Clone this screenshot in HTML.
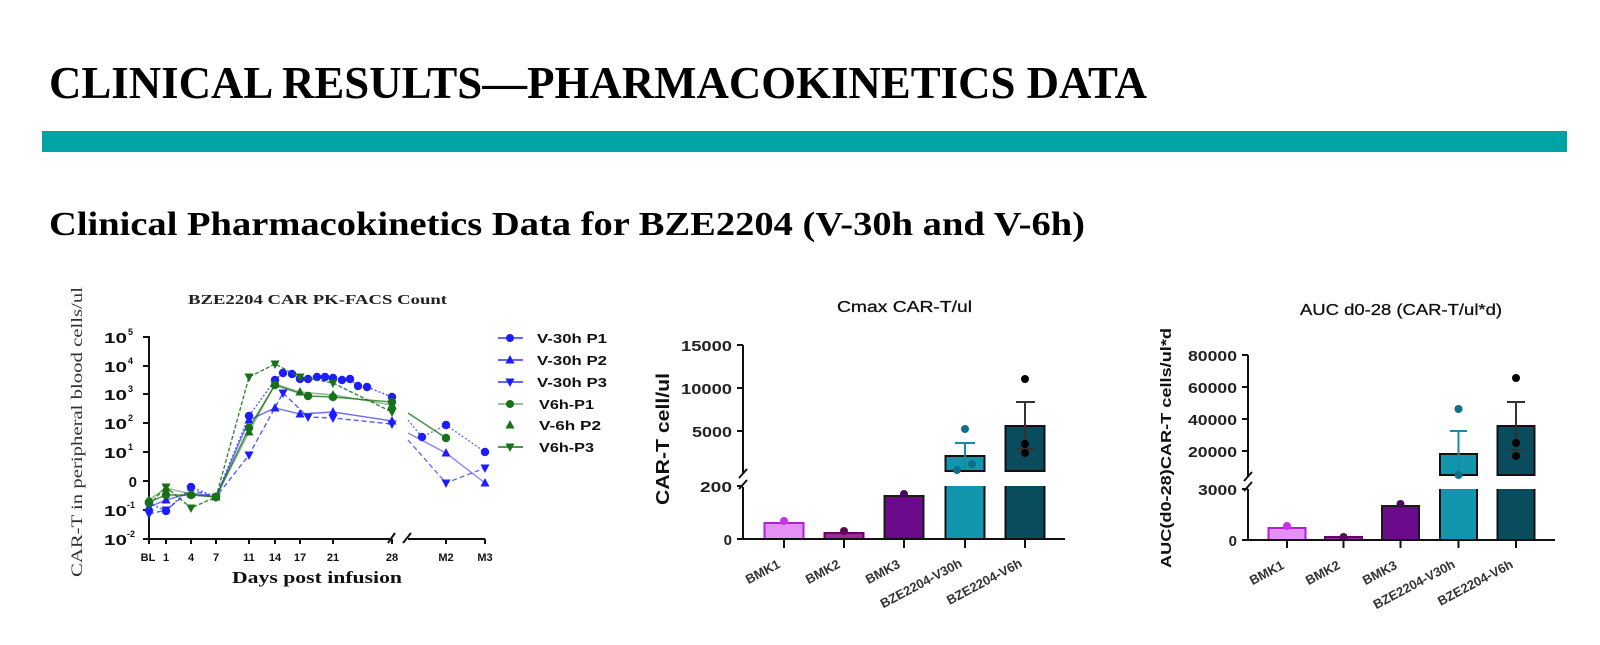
<!DOCTYPE html>
<html><head><meta charset="utf-8"><style>html,body{margin:0;padding:0;background:#fff}svg{display:block}</style></head>
<body>
<svg width="1600" height="645" viewBox="0 0 1600 645" xmlns="http://www.w3.org/2000/svg">
<defs>
<marker id="cB" viewBox="-6 -6 12 12" markerWidth="12" markerHeight="12" markerUnits="userSpaceOnUse" refX="0" refY="0"><circle r="4.2" fill="#1c1cff"/></marker>
<marker id="uB" viewBox="-6 -6 12 12" markerWidth="12" markerHeight="12" markerUnits="userSpaceOnUse" refX="0" refY="0"><path d="M0,-5L4.5,3.5L-4.5,3.5Z" fill="#1c1cff"/></marker>
<marker id="dB" viewBox="-6 -6 12 12" markerWidth="12" markerHeight="12" markerUnits="userSpaceOnUse" refX="0" refY="0"><path d="M0,5L4.5,-3.5L-4.5,-3.5Z" fill="#1c1cff"/></marker>
<marker id="cG" viewBox="-6 -6 12 12" markerWidth="12" markerHeight="12" markerUnits="userSpaceOnUse" refX="0" refY="0"><circle r="4.2" fill="#187018"/></marker>
<marker id="uG" viewBox="-6 -6 12 12" markerWidth="12" markerHeight="12" markerUnits="userSpaceOnUse" refX="0" refY="0"><path d="M0,-5L4.5,3.5L-4.5,3.5Z" fill="#187018"/></marker>
<marker id="dG" viewBox="-6 -6 12 12" markerWidth="12" markerHeight="12" markerUnits="userSpaceOnUse" refX="0" refY="0"><path d="M0,5L4.5,-3.5L-4.5,-3.5Z" fill="#187018"/></marker>
</defs>

<!-- Header -->
<text x="49" y="98" font-family="Liberation Serif, serif" font-weight="bold" font-size="46" textLength="1098" lengthAdjust="spacingAndGlyphs" fill="#000">CLINICAL RESULTS—PHARMACOKINETICS DATA</text>
<rect x="42" y="131" width="1525" height="21" fill="#00a4a5"/>
<text x="49" y="235" font-family="Liberation Serif, serif" font-weight="bold" font-size="34" textLength="1036" lengthAdjust="spacingAndGlyphs" fill="#000">Clinical Pharmacokinetics Data for BZE2204 (V-30h and V-6h)</text>

<!-- ===== LEFT CHART ===== -->
<text x="317.5" y="304" text-anchor="middle" font-family="Liberation Serif, serif" font-weight="bold" font-size="14" textLength="259" lengthAdjust="spacingAndGlyphs" fill="#222">BZE2204 CAR PK-FACS Count</text>
<text transform="translate(82,432) rotate(-90)" text-anchor="middle" font-family="Liberation Serif, serif" font-size="16" textLength="290" lengthAdjust="spacingAndGlyphs" fill="#333">CAR-T in peripheral blood cells/ul</text>

<g stroke="#111" stroke-width="2" fill="none">
<path d="M149,336V539H390"/>
<path d="M143,337H149M143,366H149M143,394H149M143,423H149M143,452H149M143,481H149M143,510H149M143,539H149"/>
<path d="M166,539V544M191,539V544M216,539V544M249,539V544M275,539V544M300,539V544M333,539V544M392,539V544M446,539V544M485,539V544M149,539V544"/>
<path d="M388,543L395,533M403,543L411,533M408,539H485"/>
</g>
<g font-family="Liberation Sans, sans-serif" font-weight="bold" fill="#111">
<g font-size="15" text-anchor="end">
<text x="127" y="343" textLength="23" lengthAdjust="spacingAndGlyphs">10</text>
<text x="127" y="372" textLength="23" lengthAdjust="spacingAndGlyphs">10</text>
<text x="127" y="400" textLength="23" lengthAdjust="spacingAndGlyphs">10</text>
<text x="127" y="429" textLength="23" lengthAdjust="spacingAndGlyphs">10</text>
<text x="127" y="458" textLength="23" lengthAdjust="spacingAndGlyphs">10</text>
<text x="137" y="487">0</text>
<text x="127" y="516" textLength="23" lengthAdjust="spacingAndGlyphs">10</text>
<text x="127" y="545" textLength="23" lengthAdjust="spacingAndGlyphs">10</text>
</g>
<g font-size="9">
<text x="128" y="335">5</text>
<text x="128" y="364">4</text>
<text x="128" y="392">3</text>
<text x="128" y="421">2</text>
<text x="128" y="450">1</text>
<text x="127" y="508">-1</text>
<text x="127" y="537">-2</text>
</g>
<g font-size="11" text-anchor="middle">
<text x="148" y="561">BL</text><text x="166" y="561">1</text><text x="191" y="561">4</text><text x="216" y="561">7</text>
<text x="249" y="561">11</text><text x="275" y="561">14</text><text x="300" y="561">17</text><text x="333" y="561">21</text>
<text x="392" y="561">28</text><text x="446" y="561">M2</text><text x="485" y="561">M3</text>
</g>
</g>
<text x="317" y="583" text-anchor="middle" font-family="Liberation Serif, serif" font-weight="bold" font-size="17" textLength="170" lengthAdjust="spacingAndGlyphs" fill="#111">Days post infusion</text>

<!-- series -->
<g fill="none" stroke-width="1.4">
<polyline stroke="#3030ff" stroke-opacity="0.8" stroke-dasharray="2,2" marker-start="url(#cB)" marker-mid="url(#cB)" marker-end="url(#cB)"
 points="149,503 166,511 191,487 216,497 249,416 275,380 283,373 292,374 300,379 308,379 317,377 325,377 333,378 342,380 350,379 358,386 367,387 392,397"/>
<polyline stroke="#3030ff" stroke-opacity="0.7" marker-start="url(#uB)" marker-mid="url(#uB)" marker-end="url(#uB)"
 points="149,507 166,500 191,493 216,497 249,420 275,408 300,414 333,412 392,421"/>
<polyline stroke="#3030ff" stroke-opacity="0.8" stroke-dasharray="5,3" marker-start="url(#dB)" marker-mid="url(#dB)" marker-end="url(#dB)"
 points="149,514 166,510 191,490 216,497 249,455 283,393 308,417 333,418 392,424"/>
<polyline stroke="#187018" stroke-opacity="0.8" marker-start="url(#cG)" marker-mid="url(#cG)" marker-end="url(#cG)"
 points="149,502 166,495 191,495 216,497 249,428 275,385 308,396 333,397 392,402"/>
<polyline stroke="#187018" stroke-opacity="0.5" marker-start="url(#uG)" marker-mid="url(#uG)" marker-end="url(#uG)"
 points="149,500 166,488 191,494 216,497 249,432 275,384 300,392 333,395 392,405"/>
<polyline stroke="#187018" stroke-opacity="0.85" stroke-dasharray="4,2" marker-start="url(#dG)" marker-mid="url(#dG)" marker-end="url(#dG)"
 points="149,505 166,487 191,508 216,497 249,377 275,364 300,377 333,383 392,412"/>
<!-- after break -->
<polyline stroke="#3030ff" stroke-opacity="0.7" stroke-dasharray="2,2" marker-mid="url(#cB)" marker-end="url(#cB)" points="408,420 422,437 446,425 485,452"/>
<polyline stroke="#3030ff" stroke-opacity="0.6" marker-mid="url(#uB)" marker-end="url(#uB)" points="408,433 446,453 485,483"/>
<polyline stroke="#3030ff" stroke-opacity="0.7" stroke-dasharray="5,3" marker-mid="url(#dB)" marker-end="url(#dB)" points="408,440 446,483 485,468"/>
<polyline stroke="#187018" stroke-opacity="0.8" marker-end="url(#cG)" points="408,413 446,438"/>
</g>

<!-- legend -->
<g stroke-width="1.4">
<line x1="498" y1="338" x2="523" y2="338" stroke="#3030ff"/>
<circle cx="510" cy="338" r="4" fill="#1c1cff"/>
<line x1="498" y1="360" x2="523" y2="360" stroke="#3030ff"/>
<path d="M510,355L514.5,363.5L505.5,363.5Z" fill="#1c1cff"/>
<line x1="498" y1="382" x2="523" y2="382" stroke="#3030ff"/>
<path d="M510,387L514.5,378.5L505.5,378.5Z" fill="#1c1cff"/>
<line x1="498" y1="404" x2="523" y2="404" stroke="#187018" stroke-opacity="0.6"/>
<circle cx="510" cy="404" r="4" fill="#187018"/>
<path d="M510,420L514.5,428.5L505.5,428.5Z" fill="#187018"/>
<line x1="498" y1="447" x2="523" y2="447" stroke="#187018"/>
<path d="M510,452L514.5,443.5L505.5,443.5Z" fill="#187018"/>
</g>
<g font-family="Liberation Sans, sans-serif" font-weight="bold" font-size="13" fill="#111">
<text x="537" y="343" textLength="70" lengthAdjust="spacingAndGlyphs">V-30h P1</text>
<text x="537" y="365" textLength="70" lengthAdjust="spacingAndGlyphs">V-30h P2</text>
<text x="537" y="387" textLength="70" lengthAdjust="spacingAndGlyphs">V-30h P3</text>
<text x="539" y="409" textLength="55" lengthAdjust="spacingAndGlyphs">V6h-P1</text>
<text x="539" y="430" textLength="62" lengthAdjust="spacingAndGlyphs">V-6h P2</text>
<text x="539" y="452" textLength="55" lengthAdjust="spacingAndGlyphs">V6h-P3</text>
</g>

<!-- ===== MIDDLE CHART ===== -->
<text x="904.5" y="312" text-anchor="middle" font-family="Liberation Sans, sans-serif" font-size="16" textLength="135" lengthAdjust="spacingAndGlyphs" fill="#111" stroke="#111" stroke-width="0.3">Cmax CAR-T/ul</text>
<text transform="translate(669,439) rotate(-90)" text-anchor="middle" font-family="Liberation Sans, sans-serif" font-weight="bold" font-size="18" textLength="132" lengthAdjust="spacingAndGlyphs" fill="#111">CAR-T cell/ul</text>
<g font-family="Liberation Sans, sans-serif" font-weight="bold" font-size="15" fill="#222" text-anchor="end">
<text x="732" y="351" textLength="51" lengthAdjust="spacingAndGlyphs">15000</text>
<text x="732" y="394" textLength="51" lengthAdjust="spacingAndGlyphs">10000</text>
<text x="732" y="437" textLength="40" lengthAdjust="spacingAndGlyphs">5000</text>
<text x="732" y="492" textLength="32" lengthAdjust="spacingAndGlyphs">200</text>
<text x="732" y="545">0</text>
</g>
<!-- bars -->
<rect x="764.5" y="523" width="39" height="16" fill="#e590f5" stroke="#b020d8" stroke-width="2"/>
<rect x="824.5" y="533" width="39" height="6" fill="#9b2a9b" stroke="#6a006a" stroke-width="2"/>
<rect x="884.5" y="496" width="39" height="43" fill="#6c0a8c" stroke="#1a1a1a" stroke-width="2"/>
<rect x="945.5" y="486" width="39" height="53" fill="#1296ae"/>
<path d="M945.5,486V539M984.5,486V539" stroke="#111" stroke-width="2"/>
<rect x="945.5" y="456" width="39" height="15" fill="#1296ae" stroke="#111" stroke-width="2"/>
<rect x="1005.5" y="486" width="39" height="53" fill="#084c5e"/>
<path d="M1005.5,486V539M1044.5,486V539" stroke="#111" stroke-width="2"/>
<rect x="1005.5" y="426" width="39" height="45" fill="#084c5e" stroke="#111" stroke-width="2"/>
<!-- error bars -->
<path d="M965,470V443M955,443H975" stroke="#1a8aa0" stroke-width="2"/>
<path d="M1025,449V402M1016,402H1035M1016,449H1035" stroke="#333" stroke-width="2"/>
<!-- dots -->
<circle cx="784" cy="521" r="4" fill="#cc30ee"/>
<circle cx="844" cy="531" r="4" fill="#5a0a5a"/>
<circle cx="904" cy="494" r="4" fill="#4a0860"/>
<circle cx="965" cy="429" r="4" fill="#0e6f88"/>
<circle cx="957" cy="470" r="4" fill="#0e6f88"/>
<circle cx="972" cy="464" r="4" fill="#0e6f88"/>
<circle cx="1025" cy="379" r="4" fill="#000"/>
<circle cx="1025" cy="444" r="4" fill="#000"/>
<circle cx="1025" cy="453" r="4" fill="#000"/>
<!-- axes -->
<g stroke="#111" stroke-width="2" fill="none">
<path d="M743,345V473M743,487V539H1065"/>
<path d="M739,478L747,469M739,489L747,480"/>
<path d="M737,345H743M737,388H743M737,431H743M737,486H743M737,539H743"/>
<path d="M784,539V548M844,539V548M904,539V548M965,539V548M1025,539V548"/>
</g>
<g font-family="Liberation Sans, sans-serif" font-weight="bold" font-size="13" fill="#333" text-anchor="end">
<text transform="translate(781,567) rotate(-28)">BMK1</text>
<text transform="translate(841,567) rotate(-28)">BMK2</text>
<text transform="translate(901,567) rotate(-28)">BMK3</text>
<text transform="translate(963,566) rotate(-28)">BZE2204-V30h</text>
<text transform="translate(1023,566) rotate(-28)">BZE2204-V6h</text>
</g>

<!-- ===== RIGHT CHART ===== -->
<text x="1401" y="315" text-anchor="middle" font-family="Liberation Sans, sans-serif" font-size="16" textLength="202" lengthAdjust="spacingAndGlyphs" fill="#111" stroke="#111" stroke-width="0.3">AUC d0-28 (CAR-T/ul*d)</text>
<text transform="translate(1171,448) rotate(-90)" text-anchor="middle" font-family="Liberation Sans, sans-serif" font-weight="bold" font-size="15" textLength="240" lengthAdjust="spacingAndGlyphs" fill="#111">AUC(d0-28)CAR-T cells/ul*d</text>
<g font-family="Liberation Sans, sans-serif" font-weight="bold" font-size="15" fill="#222" text-anchor="end">
<text x="1237" y="361" textLength="49" lengthAdjust="spacingAndGlyphs">80000</text>
<text x="1237" y="393" textLength="49" lengthAdjust="spacingAndGlyphs">60000</text>
<text x="1237" y="425" textLength="49" lengthAdjust="spacingAndGlyphs">40000</text>
<text x="1237" y="457" textLength="49" lengthAdjust="spacingAndGlyphs">20000</text>
<text x="1237" y="495" textLength="39" lengthAdjust="spacingAndGlyphs">3000</text>
<text x="1237" y="546">0</text>
</g>
<rect x="1268.5" y="528" width="37" height="12" fill="#e590f5" stroke="#b020d8" stroke-width="2"/>
<rect x="1325" y="537" width="37" height="3" fill="#9b2a9b" stroke="#6a006a" stroke-width="2"/>
<rect x="1382" y="506" width="37" height="34" fill="#6c0a8c" stroke="#1a1a1a" stroke-width="2"/>
<rect x="1440" y="489" width="37" height="51" fill="#1296ae"/>
<path d="M1440,489V540M1477,489V540" stroke="#111" stroke-width="2"/>
<rect x="1440" y="454" width="37" height="21" fill="#1296ae" stroke="#111" stroke-width="2"/>
<rect x="1497.5" y="489" width="37" height="51" fill="#084c5e"/>
<path d="M1497.5,489V540M1534.5,489V540" stroke="#111" stroke-width="2"/>
<rect x="1497.5" y="426" width="37" height="49" fill="#084c5e" stroke="#111" stroke-width="2"/>
<path d="M1458.5,474V431M1450,431H1467" stroke="#1a8aa0" stroke-width="2"/>
<path d="M1516,450V402M1507,402H1525M1507,450H1525" stroke="#333" stroke-width="2"/>
<circle cx="1287" cy="526" r="4" fill="#cc30ee"/>
<circle cx="1343.5" cy="537" r="4" fill="#5a0a5a"/>
<circle cx="1400.5" cy="504" r="4" fill="#4a0860"/>
<circle cx="1458.5" cy="409" r="4" fill="#0e6f88"/>
<circle cx="1458.5" cy="475" r="4" fill="#0e6f88"/>
<circle cx="1516" cy="378" r="4" fill="#000"/>
<circle cx="1516" cy="443" r="4" fill="#000"/>
<circle cx="1516" cy="456" r="4" fill="#000"/>
<g stroke="#111" stroke-width="2" fill="none">
<path d="M1248,355V476M1248,489V540H1555"/>
<path d="M1244,481L1252,472M1244,491L1252,482"/>
<path d="M1242,355H1248M1242,387H1248M1242,419H1248M1242,451H1248M1242,489H1248M1242,540H1248"/>
<path d="M1287,540V548M1343.5,540V548M1400.5,540V548M1458.5,540V548M1516,540V548"/>
</g>
<g font-family="Liberation Sans, sans-serif" font-weight="bold" font-size="13" fill="#333" text-anchor="end">
<text transform="translate(1285,568) rotate(-28)">BMK1</text>
<text transform="translate(1341,568) rotate(-28)">BMK2</text>
<text transform="translate(1398,568) rotate(-28)">BMK3</text>
<text transform="translate(1456,567) rotate(-28)">BZE2204-V30h</text>
<text transform="translate(1514,567) rotate(-28)">BZE2204-V6h</text>
</g>
</svg>
</body></html>
